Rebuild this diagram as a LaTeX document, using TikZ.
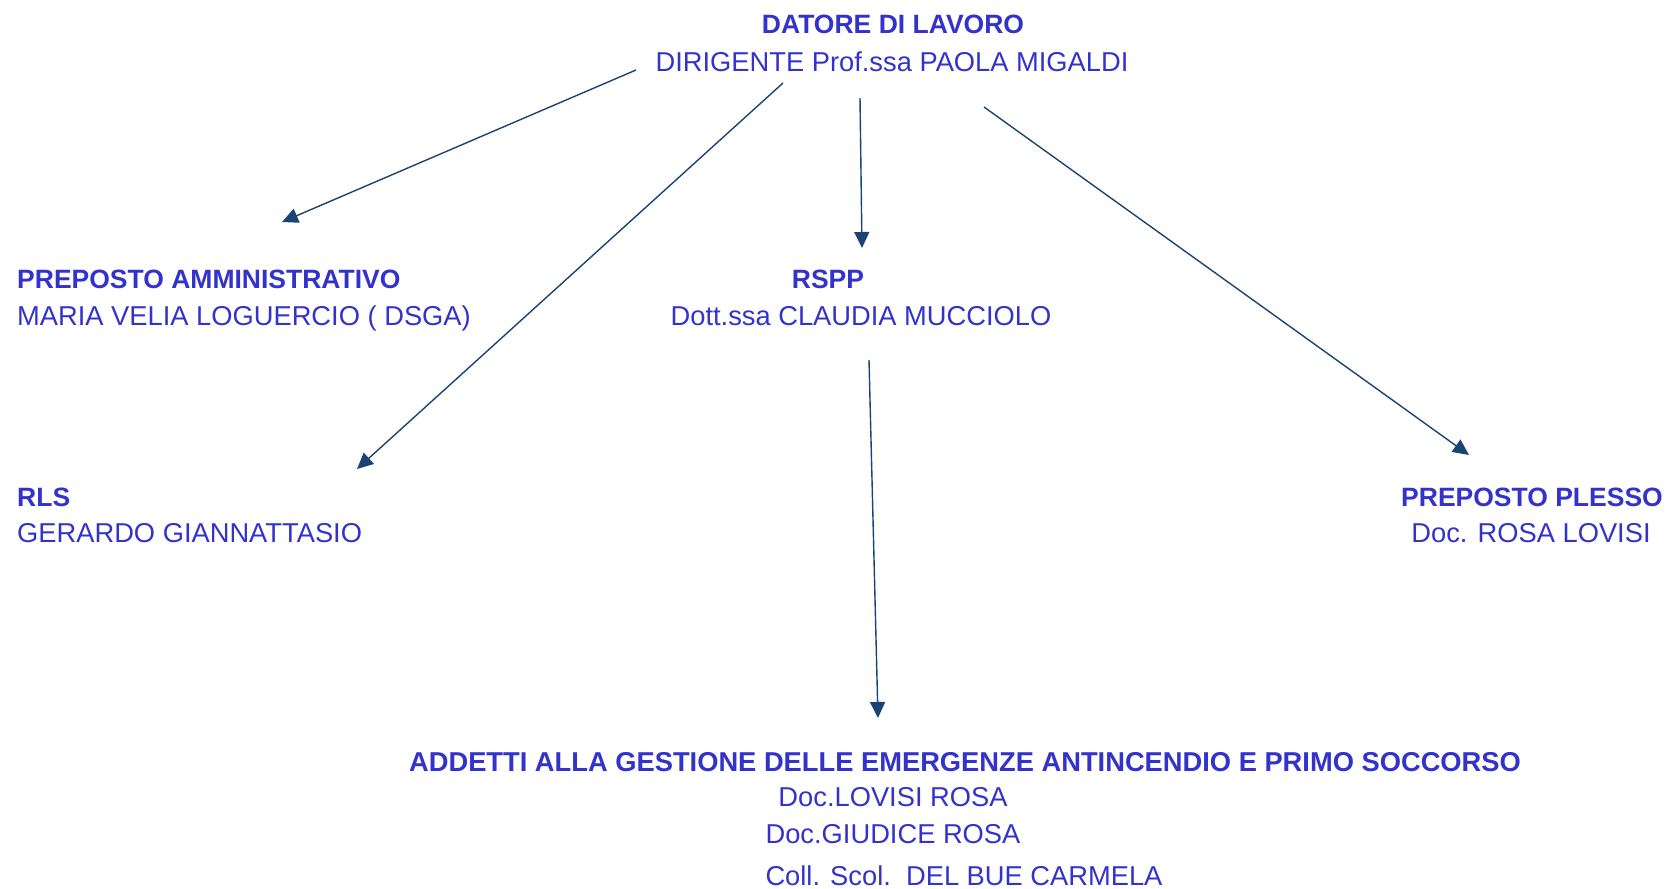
\documentclass[tikz,border=0pt]{standalone}
\usepackage{fontspec}
\setmainfont{Liberation Sans}
\usetikzlibrary{arrows.meta}
\definecolor{testo}{RGB}{51,51,204}
\definecolor{blufreccia}{RGB}{25,68,115}
\begin{document}
\begin{tikzpicture}[x=1pt,y=-1pt,>={Triangle[length=16pt,width=15pt]},
  titolo/.style={anchor=base,inner sep=0pt,text=testo,font=\fontsize{26.5}{30}\selectfont\bfseries},
  nome/.style={anchor=base,inner sep=0pt,text=testo,font=\fontsize{27.3}{30}\selectfont}]
\useasboundingbox (0,0) rectangle (1671,889);
\def\freccia#1#2{
\draw[->,blufreccia,line width=1.4pt] #1 -- #2;
}
% testi
\coordinate (pdatore) at (893,33);
\coordinate (pdirigente) at (892,71);
\coordinate (pamm) at (17,288);
\coordinate (pdsga) at (17,325);
\coordinate (prspp) at (828,288);
\coordinate (pmucciolo) at (861,325);
\coordinate (prls) at (17,506);
\coordinate (pgerardo) at (17,542);
\coordinate (pplesso) at (1532,506);
\coordinate (plovisi) at (1531,542);
\coordinate (paddetti) at (965,771);
\coordinate (padd1) at (893,806);
\coordinate (padd2) at (893,843);
\coordinate (padd3) at (964,885);
\node[titolo] (datore) at (pdatore) {DATORE DI LAVORO};
\node[nome] (dirigente) at (pdirigente) {DIRIGENTE Prof.ssa PAOLA MIGALDI};
\node[titolo,anchor=base west] (amm) at (pamm) {PREPOSTO AMMINISTRATIVO};
\node[nome,anchor=base west] (dsga) at (pdsga) {MARIA VELIA LOGUERCIO ( DSGA)};
\node[titolo] (rspp) at (prspp) {RSPP};
\node[nome] (mucciolo) at (pmucciolo) {Dott.ssa CLAUDIA MUCCIOLO};
\node[titolo,anchor=base west] (rls) at (prls) {RLS};
\node[nome,anchor=base west] (gerardo) at (pgerardo) {GERARDO GIANNATTASIO};
\node[titolo] (plesso) at (pplesso) {PREPOSTO PLESSO};
\node[nome] (lovisi) at (plovisi) {Doc. ROSA LOVISI};
\node[titolo,font=\fontsize{27.3}{30}\selectfont\bfseries] (addetti) at (paddetti) {ADDETTI ALLA GESTIONE DELLE EMERGENZE ANTINCENDIO E PRIMO SOCCORSO};
\node[nome] (add1) at (padd1) {Doc.LOVISI ROSA};
\node[nome] (add2) at (padd2) {Doc.GIUDICE ROSA};
\node[nome] (add3) at (padd3) {Coll. Scol.\ \ DEL BUE CARMELA};
% frecce
\coordinate (d1) at (636,70);
\coordinate (a1) at (282,222);
\coordinate (d2) at (783,83);
\coordinate (a2) at (357,469);
\coordinate (d3) at (860,98);
\coordinate (a3) at (862,248);
\coordinate (d4) at (984,107);
\coordinate (a4) at (1469,455);
\coordinate (d5) at (869,360);
\coordinate (a5) at (878,718);
\freccia{(d1)}{(a1)}
\freccia{(d2)}{(a2)}
\freccia{(d3)}{(a3)}
\freccia{(d4)}{(a4)}
\freccia{(d5)}{(a5)}
\end{tikzpicture}
\end{document}
